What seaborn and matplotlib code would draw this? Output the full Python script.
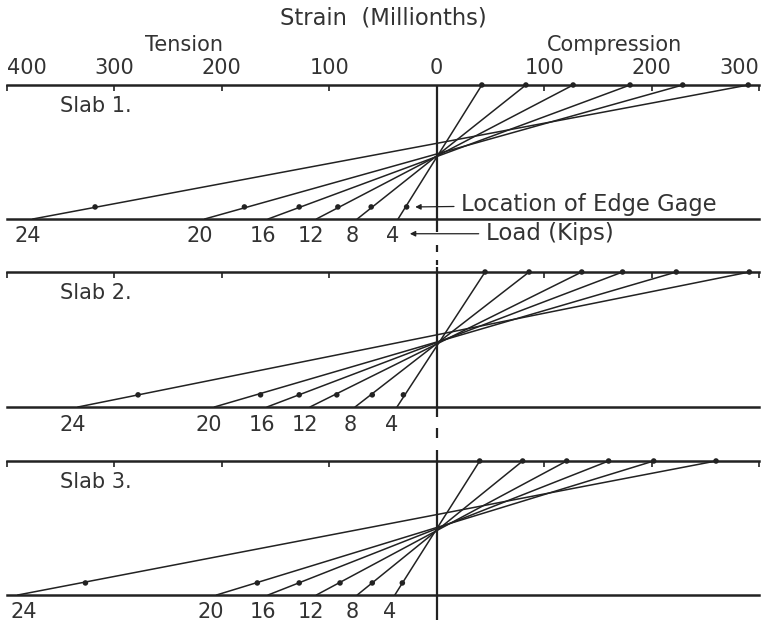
import matplotlib
matplotlib.use("Agg")
import matplotlib.pyplot as plt
import matplotlib.transforms as mtransforms
import numpy as np
import pandas as pd
import seaborn as sns

# Load steps (kips)
loads = [4, 8, 12, 16, 20, 24]

# Strain in millionths: compression positive, tension negative.
# Compression face (top), tension face (bottom) and edge gage readings.
slab1_top = [42, 83, 127, 180, 229, 290]
slab1_bottom = [-36, -74, -112, -157, -216, -376]
slab1_gage = [-28, -61, -92, -128, -179, -318]

slab2_top = [45, 86, 135, 173, 223, 291]
slab2_bottom = [-37, -76, -118, -158, -207, -334]
slab2_gage = [-31, -60, -93, -128, -164, -278]

slab3_top = [40, 80, 121, 160, 202, 260]
slab3_bottom = [-39, -74, -112, -157, -205, -390]
slab3_gage = [-32, -60, -90, -128, -167, -327]

slab_names = ["Slab 1.", "Slab 2.", "Slab 3."]
axis_ticks = [-400, -300, -200, -100, 0, 100, 200, 300]
axis_tick_labels = ["400", "300", "200", "100", "0", "100", "200", "300"]

# relative depth of the edge gage (0 = compression face, 1 = tension face)
gage_depth = 0.91

slabs = [
    (slab1_top, slab1_bottom, slab1_gage),
    (slab2_top, slab2_bottom, slab2_gage),
    (slab3_top, slab3_bottom, slab3_gage),
]

sns.set_theme(style="white")
plt.rcParams["font.family"] = ["DejaVu Sans"]
INK = "#222222"
TXT = "#333333"
FS = 15

fig = plt.figure(figsize=(7.61, 6.24), dpi=100)
W, H = 761.0, 624.0
left, width = 7 / W, 752 / W
panel_px = [(85, 219), (272, 407), (461, 595)]
axes = []
for top, bot in panel_px:
    axes.append(fig.add_axes([left, 1 - bot / H, width, (bot - top) / H]))

# vertical extent of the zero-strain line in each panel (depth units)
zero_line = [(-0.0, 1.097), (-0.037, 1.074), (-0.082, 1.19)]
zero_dashes = [[(1.194, 1.246), (1.306, 1.343)], [(1.156, 1.230)], []]

for i, (ax, (top, bottom, gage)) in enumerate(zip(axes, slabs)):
    lines = pd.DataFrame({
        "load": loads + loads,
        "strain": top + bottom,
        "depth": [0.0] * len(loads) + [1.0] * len(loads),
    })
    sns.lineplot(data=lines, x="strain", y="depth", units="load",
                 estimator=None, sort=False, color=INK, lw=1.1,
                 ax=ax, legend=False)
    dots = pd.DataFrame({
        "strain": top + gage,
        "depth": [0.0] * len(loads) + [gage_depth] * len(loads),
    })
    sns.scatterplot(data=dots, x="strain", y="depth", color=INK, s=16,
                    edgecolor="none", ax=ax, legend=False, zorder=5)
    for coll in ax.collections:
        coll.set_clip_on(False)
    for ln in ax.lines:
        ln.set_clip_on(False)

    ax.set_xlim(-400, 300)
    ax.set_ylim(1, 0)
    ax.set_xlabel("")
    ax.set_ylabel("")
    ax.set_yticks([])
    for side in ("left", "right"):
        ax.spines[side].set_visible(False)
    for side in ("top", "bottom"):
        ax.spines[side].set_visible(True)
        ax.spines[side].set_linewidth(1.8)
        ax.spines[side].set_color(INK)
    ax.set_facecolor("none")

    ax.xaxis.set_ticks_position("top")
    ax.set_xticks(axis_ticks)
    ax.tick_params(axis="x", direction="in", length=4, width=1.2,
                   color=INK, bottom=False, top=True, labelbottom=False,
                   labeltop=(i == 0), labelsize=FS, labelcolor=TXT, pad=5)
    if i == 0:
        ax.set_xticklabels(axis_tick_labels)
        tl = ax.xaxis.get_majorticklabels()
        tl[0].set_horizontalalignment("left")
        tl[-1].set_horizontalalignment("right")

    # zero-strain reference line
    ax.plot([0, 0], list(zero_line[i]), color=INK, lw=1.6, clip_on=False,
            solid_capstyle="butt")
    for a, b in zero_dashes[i]:
        ax.plot([0, 0], [a, b], color=INK, lw=1.6, clip_on=False,
                solid_capstyle="butt")

    # slab name
    ax.text(0.07, 0.155, slab_names[i],
            transform=mtransforms.blended_transform_factory(ax.transAxes, ax.transData),
            fontsize=FS, color=TXT, va="center", ha="left")

    # load labels under the tension face
    for ld, xb in zip(loads, bottom):
        ax.text(max(xb - 5, -384), 1.13, str(ld), fontsize=FS, color=TXT,
                ha="center", va="center", clip_on=False)

# callouts on the first panel
ax0 = axes[0]
arrow = dict(arrowstyle="-|>", color=INK, lw=0.9, mutation_scale=8,
             shrinkA=3, shrinkB=0)
ax0.annotate("Location of Edge Gage", xy=(slab1_gage[0] + 8, gage_depth),
             xytext=(23, gage_depth - 0.015), fontsize=16.3, color=TXT,
             va="center", ha="left", arrowprops=arrow, annotation_clip=False)
ax0.annotate("Load (Kips)", xy=(-25, 1.11), xytext=(46, 1.11),
             fontsize=16.5, color=TXT, va="center", ha="left",
             arrowprops=arrow, annotation_clip=False)

# axis headings
fig.text(383 / W, 1 - 18 / H, "Strain  (Millionths)", fontsize=16.3,
         color=TXT, ha="center", va="center")
fig.text(184 / W, 1 - 45 / H, "Tension", fontsize=FS, color=TXT,
         ha="center", va="center")
fig.text(615 / W, 1 - 45 / H, "Compression", fontsize=FS, color=TXT,
         ha="center", va="center")

fig.savefig("out.png", dpi=100, facecolor="white")
